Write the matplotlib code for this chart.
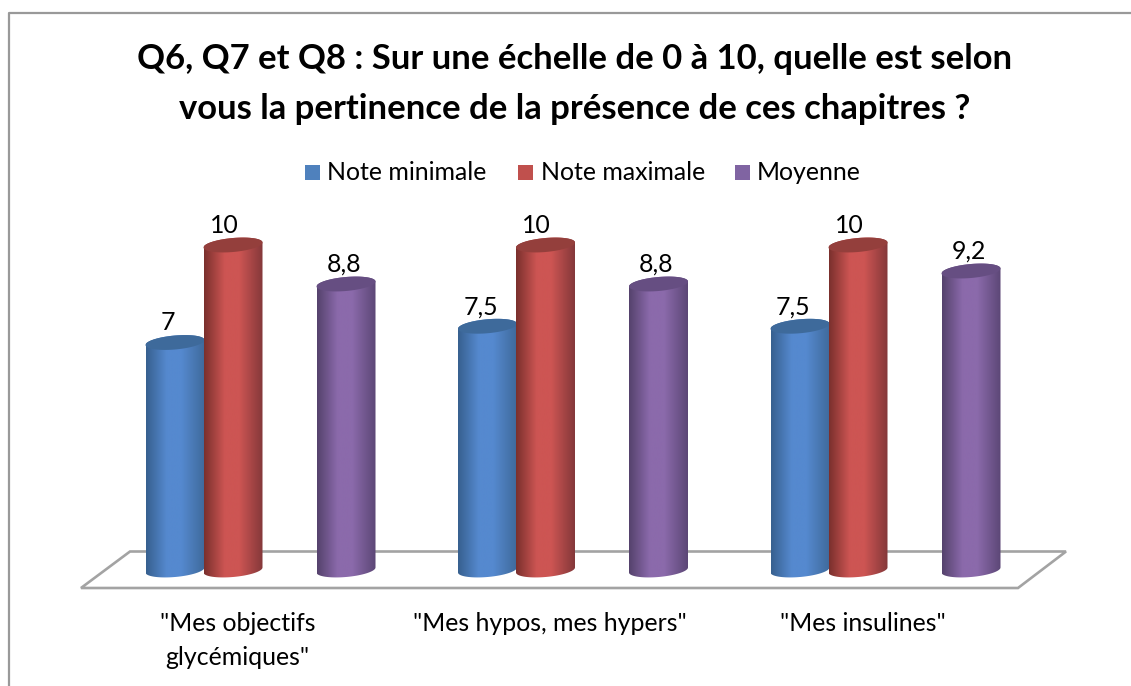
import numpy as np
import matplotlib
matplotlib.use("Agg")
import matplotlib.pyplot as plt
from matplotlib.colors import LinearSegmentedColormap
from matplotlib.patches import Polygon

plt.rcParams['font.family'] = ['Lato', 'DejaVu Sans']

W, H = 1131, 686
categories = ['"Mes objectifs\nglycémiques"', '"Mes hypos, mes hypers"', '"Mes insulines"']
series = ["Note minimale", "Note maximale", "Moyenne"]
note_min = [7, 7.5, 7.5]
note_max = [10, 10, 10]
moyenne = [8.8, 8.8, 9.2]
labels_min = ["7", "7,5", "7,5"]
labels_max = ["10", "10", "10"]
labels_moy = ["8,8", "8,8", "9,2"]

legend_cols = ["#4f81bd", "#c0504d", "#8064a2"]
edge_cols = [("#37608f", "#3f6a9b"), ("#7a302d", "#84383a"), ("#55426d", "#5c4776")]
mid_cols = ["#5589cf", "#cd5553", "#8b6aab"]
cap_cols = ["#3e6a9b", "#943f3c", "#664e82"]

# pixel scale of the plot
X0, PX_X = 233, 312.5
Y0, PX_Y = 570, 32.5
offsets = [-58 / PX_X, 0, 113 / PX_X]
label_shift = [-7 / PX_X, -9 / PX_X, -2 / PX_X]
bar_w = 59 / PX_X
rx = 7 / PX_Y    # ellipse half height
tilt = 2.5 / PX_Y

fig = plt.figure(figsize=(W / 100, H / 100), dpi=100)
ax = fig.add_axes([0, 0, 1, 1])
ax.set_xlim(-X0 / PX_X, (W - X0) / PX_X)
ax.set_ylim((Y0 - H) / PX_Y, Y0 / PX_Y)
ax.axis("off")


def px(x, y):
    return (x - X0) / PX_X, (Y0 - y) / PX_Y


# outer frame, only left and top are visible
fx = [px(8.5, H)[0], px(8.5, 13)[0], px(W, 13)[0]]
fy = [px(0, H)[1], px(0, 13)[1], px(0, 13)[1]]
ax.plot(fx, fy, color="#999999", lw=1.6, zorder=1)

# floor
floor = [px(81, 588), px(130, 551.5), px(1066, 551.5), px(1018, 588)]
ax.add_patch(Polygon(floor, closed=True, fill=False, ec="#a3a3a3", lw=1.9, zorder=1))


def ellipse(xc, yc, t):
    return xc + bar_w / 2 * np.cos(t), yc + rx * np.sin(t) + tilt * np.cos(t)


def cylinder(xc, val, i, z):
    cmap = LinearSegmentedColormap.from_list(
        "c", [(0, edge_cols[i][0]), (0.35, mid_cols[i]), (0.6, mid_cols[i]), (1, edge_cols[i][1])])
    t_bot = np.linspace(np.pi, 2 * np.pi, 40)
    t_top = np.linspace(0, np.pi, 40)
    bx, by = ellipse(xc, 0, t_bot)
    tx, ty = ellipse(xc, val, t_top)
    body = Polygon(np.column_stack([np.r_[bx, tx], np.r_[by, ty]]), closed=True, fc="none", ec="none",
                   transform=ax.transData)
    ax.add_patch(body)
    grad = np.linspace(0, 1, 128).reshape(1, -1)
    im = ax.imshow(grad, cmap=cmap, aspect="auto", zorder=z,
                   extent=[xc - bar_w / 2, xc + bar_w / 2, -1, val + 1])
    im.set_clip_path(body)
    capx, capy = ellipse(xc, val, np.linspace(0, 2 * np.pi, 80))
    ax.fill(capx, capy, color=cap_cols[i], zorder=z + 0.1, lw=0)


values = [note_min, note_max, moyenne]
texts = [labels_min, labels_max, labels_moy]
for g in range(3):
    for i in [0, 2, 1]:
        xc = g + offsets[i]
        val = values[i][g]
        cylinder(xc, val, i, 3 + (i == 1))
        ax.text(xc + label_shift[i], val + 8 / PX_Y, texts[i][g], ha="center", va="bottom",
                fontsize=17.9, color="black", zorder=6)
    ax.text(g + 4.5 / PX_X, -42 / PX_Y, categories[g], ha="center", va="top",
            fontsize=17.9, color="black", linespacing=1.6)

# keep limits after imshow
ax.set_xlim(-X0 / PX_X, (W - X0) / PX_X)
ax.set_ylim((Y0 - H) / PX_Y, Y0 / PX_Y)

# title
ax.text(*px(575, 84), "Q6, Q7 et Q8 : Sur une échelle de 0 à 10, quelle est selon\nvous la pertinence de la présence de ces chapitres ?",
        ha="center", va="center", fontsize=24.9, fontweight="bold", color="black", linespacing=1.68)

# legend
leg_sq = [305, 518, 735]
leg_tx = [327, 541, 757]
for i in range(3):
    sx0, sy0 = px(leg_sq[i], 180)
    sx1, sy1 = px(leg_sq[i] + 15, 165)
    ax.fill([sx0, sx1, sx1, sx0], [sy0, sy0, sy1, sy1], color=legend_cols[i], lw=0)
    ax.text(*px(leg_tx[i], 173), series[i], ha="left", va="center", fontsize=17.9, color="black")

fig.savefig("out.png", dpi=100)
